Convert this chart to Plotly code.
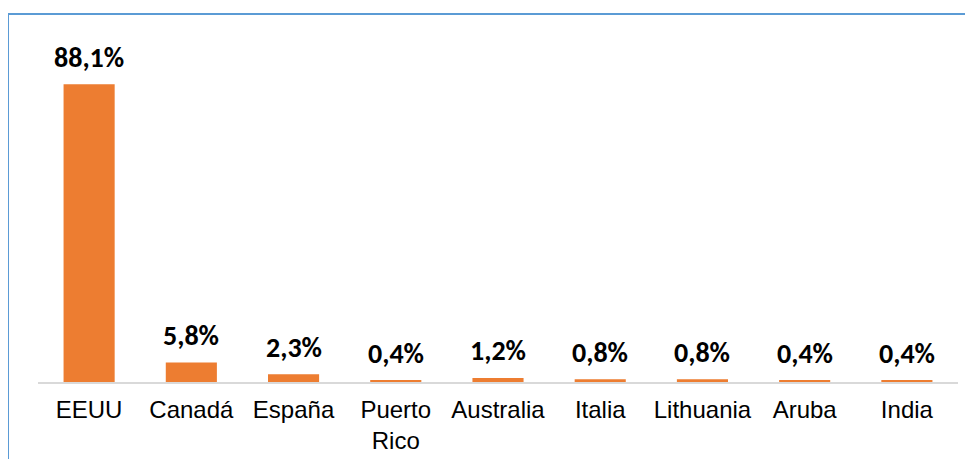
import plotly.graph_objects as go

categories = ["EEUU", "Canadá", "España", "Puerto<br>Rico", "Australia", "Italia", "Lithuania", "Aruba", "India"]
values = [88.1, 5.8, 2.3, 0.4, 1.2, 0.8, 0.8, 0.4, 0.4]
value_labels = ["88,1%", "5,8%", "2,3%", "0,4%", "1,2%", "0,8%", "0,8%", "0,4%", "0,4%"]

BAR_COLOR = "#ED7D31"
BORDER = "#5B9BD5"

fig = go.Figure()
fig.add_trace(go.Bar(
    x=categories, y=values,
    marker=dict(color=BAR_COLOR, line=dict(width=0)),
    hoverinfo="skip",
))

for c, v, t in zip(categories, values, value_labels):
    fig.add_annotation(
        x=c, y=v, text=t, showarrow=False,
        yanchor="middle", yshift=27,
        font=dict(family="Carlito, Lato, Arial", size=28, color="#000000", weight="bold"),
    )

# chart frame (left + top edges)
fig.add_shape(type="line", xref="paper", yref="paper",
              x0=-0.0326, x1=-0.0326, y0=1.0888, y1=-0.4,
              line=dict(color=BORDER, width=2))
fig.add_shape(type="line", xref="paper", yref="paper",
              x0=-0.0326, x1=1.1, y0=1.0888, y1=1.0888,
              line=dict(color=BORDER, width=2))

fig.update_layout(
    width=965, height=451,
    margin=dict(l=30, r=15, t=36, b=77, autoexpand=False),
    paper_bgcolor="white", plot_bgcolor="white",
    bargap=0.5,
    showlegend=False,
    xaxis=dict(
        showline=True, linecolor="#D9D9D9", linewidth=2,
        showgrid=False, ticks="", ticklabelstandoff=5, automargin=False,
        tickfont=dict(family="Liberation Sans, Arial", size=24, color="#000000"),
        fixedrange=True,
    ),
    yaxis=dict(
        range=[0, 100], visible=False, showgrid=False, zeroline=False,
        fixedrange=True, automargin=False,
    ),
)

fig.write_html("out.html")
